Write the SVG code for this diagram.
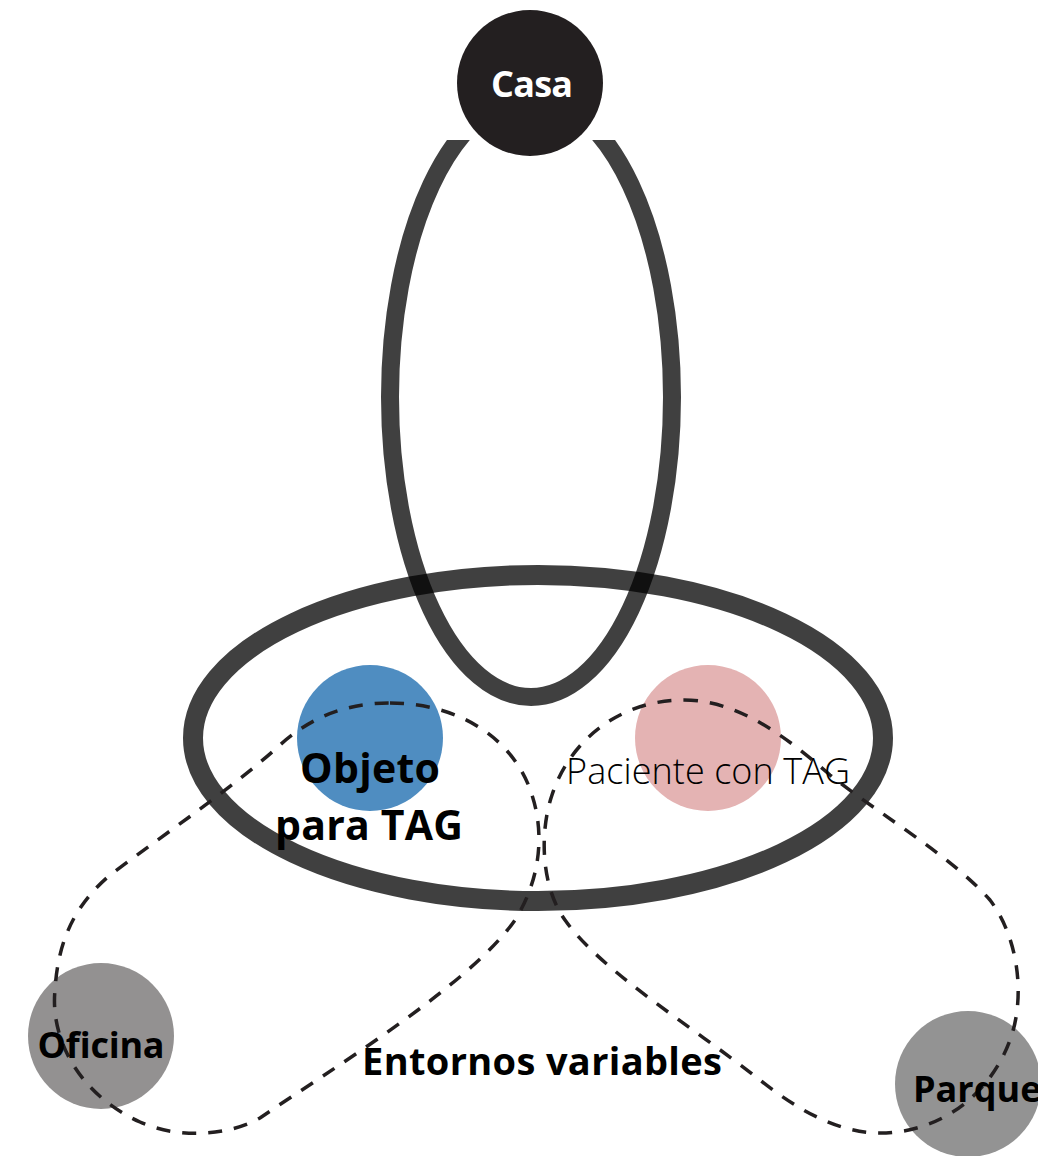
<svg xmlns="http://www.w3.org/2000/svg" width="1038" height="1156" viewBox="0 0 1038 1156">
<style>
.ring{fill:none;stroke:#000;stroke-opacity:0.75}
.dash{fill:none;stroke:#231f20;stroke-width:3.5;stroke-dasharray:14 12;stroke-linecap:butt}
.lbl{font-family:"Open Sans","Liberation Sans",sans-serif;font-weight:700;fill:#000;text-anchor:middle}
.lite{font-family:"Open Sans","Liberation Sans",sans-serif;font-weight:300;fill:#000;text-anchor:middle}
</style>
<defs>
<clipPath id="below"><rect x="0" y="140" width="1038" height="1016"/></clipPath>
</defs>
<g id="loops">
<ellipse class="ring" cx="531" cy="397" rx="141" ry="300" stroke-width="18" clip-path="url(#below)"/>
<ellipse class="ring" cx="538" cy="738" rx="345" ry="163" stroke-width="20"/>
</g>
<g id="casa">
<circle cx="530" cy="83" r="73" fill="#231f20"/>
<text class="lbl" x="532" y="97" font-size="36" style="fill:#fff" textLength="82">Casa</text>
</g>
<g id="objeto">
<circle cx="370" cy="738" r="73" fill="#4f8dc1"/>
</g>
<g id="paciente">
<circle cx="708" cy="738" r="73" fill="#e4b3b3"/>
</g>
<g id="oficina">
<circle cx="101" cy="1036" r="73" fill="#939191"/>
</g>
<g id="parque">
<circle cx="968" cy="1084" r="73" fill="#939393"/>
</g>
<g id="connectors">
<path class="dash" d="M 390 703 C 460 703, 515 740, 532 795 C 545 835, 540 880, 515 920 C 470 985, 330 1070, 260 1118 C 230 1135, 180 1140, 140 1122 C 80 1095, 50 1040, 55 990 C 58 940, 75 905, 110 875 C 170 830, 230 790, 280 745 C 310 718, 345 703, 390 703 Z"/>
<path class="dash" d="M 684 700 C 740 700, 790 740, 830 775 C 880 815, 950 855, 990 900 C 1020 940, 1025 1000, 1010 1040 C 990 1095, 940 1133, 880 1133 C 840 1133, 800 1112, 760 1080 C 690 1025, 600 970, 565 920 C 540 885, 540 830, 552 795 C 570 740, 620 700, 684 700 Z"/>
</g>
<g id="labels">
<text class="lbl" x="370" y="783" font-size="41" textLength="140">Objeto</text>
<text class="lbl" x="369" y="840" font-size="41" textLength="188">para TAG</text>
<text class="lite" x="708" y="784" font-size="36" textLength="284">Paciente con TAG</text>
<text class="lbl" x="542" y="1075" font-size="38" textLength="360">Entornos variables</text>
<text class="lbl" x="101" y="1058" font-size="36" textLength="127">Oficina</text>
<text class="lbl" x="913" y="1102" font-size="36" style="text-anchor:start">Parque</text>
</g>
</svg>
